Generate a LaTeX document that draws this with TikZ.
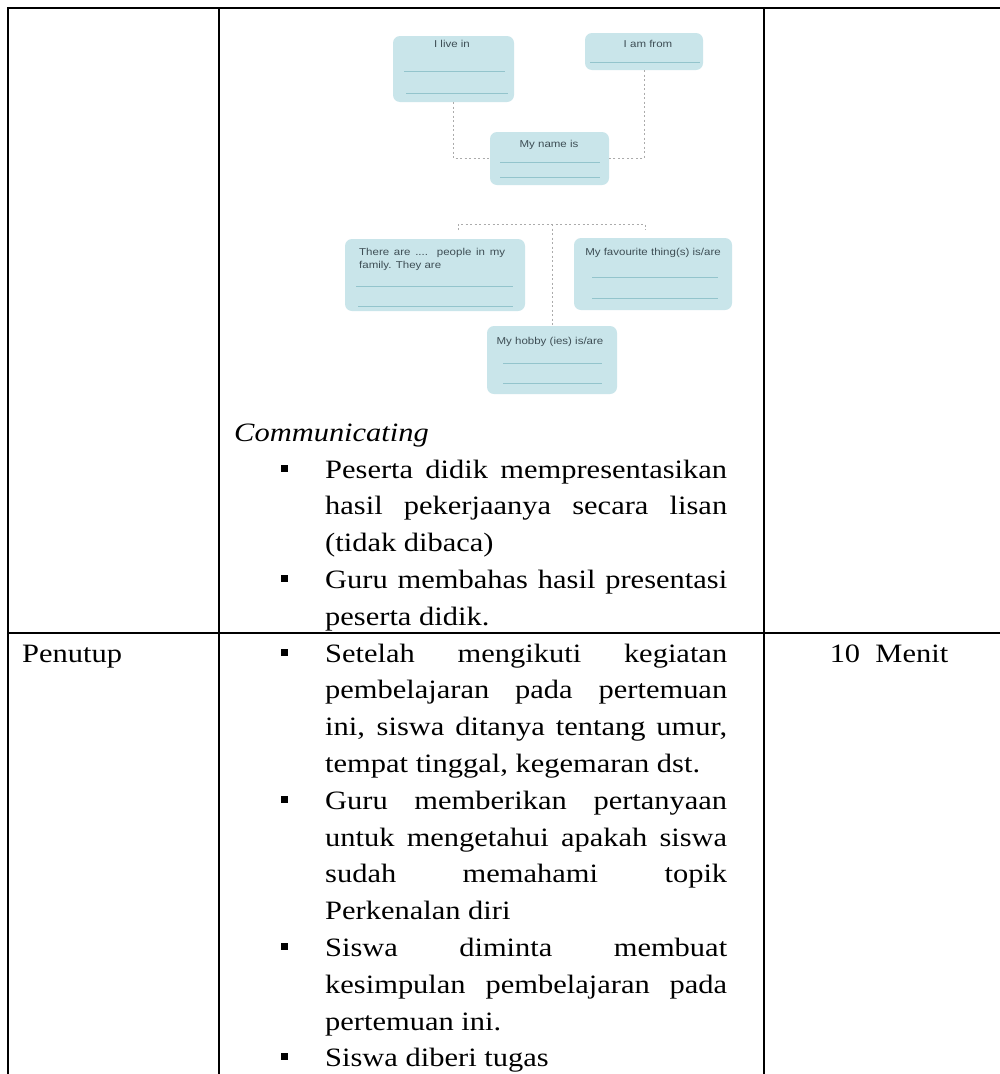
\documentclass[tikz,border=0pt]{standalone}
\usepackage{fontspec}
\setmainfont{Liberation Serif}[FakeStretch=1.15]
\newfontfamily\dsans{Liberation Sans}[FakeStretch=1.15]
\definecolor{boxfill}{HTML}{C9E5EA}
\definecolor{blinec}{HTML}{93C4CC}
\definecolor{conncol}{HTML}{ABABAB}
\definecolor{dtextc}{HTML}{3E4E55}
\newcommand{\jl}[1]{\makebox[402pt][s]{#1}}
\begin{document}
\begin{tikzpicture}[x=1pt,y=-1pt,
  tline/.style={line width=2pt, draw=black},
  body/.style={anchor=base west, inner sep=0pt, font=\fontsize{26.5}{30}\selectfont},
  bulletsq/.style={rectangle, fill=black, draw=none, minimum size=7pt, inner sep=0pt},
  dbox/.style={rectangle, fill=boxfill, draw=none, rounded corners=7pt, inner sep=0pt},
  dtext/.style={font=\dsans\fontsize{10}{11}\selectfont, text=dtextc, inner sep=0pt, anchor=base},
  bline/.style={draw=blinec, line width=0.9pt},
  conn/.style={draw=conncol, line width=1pt, dash pattern=on 2pt off 2.5pt}]
\useasboundingbox (0,0) rectangle (1000,1074);
\fill[white] (0,0) rectangle (1000,1074);

% ---------- table rules ----------
\coordinate (tl) at (7,8);
\coordinate (tr) at (1000,8);
\coordinate (c1t) at (8,7);
\coordinate (c1b) at (8,1074);
\coordinate (c2t) at (219,7);
\coordinate (c2b) at (219,1074);
\coordinate (c3t) at (764,7);
\coordinate (c3b) at (764,1074);
\coordinate (rl) at (8,633);
\coordinate (rr) at (1000,633);
\draw[tline] (tl) -- (tr);
\draw[tline] (c1t) -- (c1b);
\draw[tline] (c2t) -- (c2b);
\draw[tline] (c3t) -- (c3b);
\draw[tline] (rl) -- (rr);

% ---------- embedded diagram ----------
\node[dbox, minimum width=121pt, minimum height=66pt] (live) at (453.5,69) {};
\node[dbox, minimum width=118pt, minimum height=37pt] (from) at (644,51.5) {};
\node[dbox, minimum width=119pt, minimum height=53pt] (name) at (549.5,158.5) {};
\node[dbox, minimum width=180pt, minimum height=72pt] (family) at (435,275) {};
\node[dbox, minimum width=158pt, minimum height=72pt] (fav) at (653,274) {};
\node[dbox, minimum width=130pt, minimum height=68pt] (hobby) at (552,360) {};

\node[dtext] (tlive) at (452,47) {I live in};
\node[dtext] (tfrom) at (648,47) {I am from};
\node[dtext] (tname) at (549,147) {My name is};
\node[dtext, anchor=base west] (tfam1) at (359,255) {\makebox[146pt][s]{There are .... people in my}};
\node[dtext, anchor=base west] (tfam2) at (359,268) {family. They are};
\node[dtext] (tfav) at (653,255) {My favourite thing(s) is/are};
\node[dtext] (thob) at (550,344) {My hobby (ies) is/are};

\draw[bline] (404,71) -- (505,71);
\draw[bline] (406,93) -- (508,93);
\draw[bline] (590,62) -- (700,62);
\draw[bline] (500,162) -- (600,162);
\draw[bline] (500,177) -- (600,177);
\draw[bline] (356,286) -- (513,286);
\draw[bline] (358,306) -- (513,306);
\draw[bline] (592,277) -- (718,277);
\draw[bline] (592,298) -- (718,298);
\draw[bline] (503,363) -- (602,363);
\draw[bline] (503,383) -- (602,383);

\draw[conn] (live.south) |- (name.west);
\draw[conn] (from.south) |- (name.east);
\coordinate (hl) at (458,230);
\coordinate (hlt) at (458,224);
\coordinate (hrt) at (645,224);
\coordinate (hr) at (645,230);
\coordinate (hm) at (552,224);
\draw[conn] (hl) -- (hlt) -- (hrt) -- (hr);
\draw[conn] (hm) -- (hobby.north);

% ---------- text ----------
\node[body, font=\fontsize{26.5}{30}\selectfont\itshape] (comm) at (234,441) {Communicating};

\node[bulletsq] (b1) at (284,468) {};
\node[body] (l1) at (325,478) {\jl{Peserta didik mempresentasikan}};
\node[body] (l2) at (325,514.8) {\jl{hasil pekerjaanya secara lisan}};
\node[body] (l3) at (325,551.6) {(tidak dibaca)};
\node[bulletsq] (b2) at (284,578.4) {};
\node[body] (l4) at (325,588.4) {\jl{Guru membahas hasil presentasi}};
\node[body] (l5) at (325,625.2) {peserta didik.};

\node[body] (pen) at (22,662) {Penutup};
\node[body, anchor=base] (men) at (889,662) {10~~Menit};

\node[bulletsq] (b3) at (284,652) {};
\node[body] (l6) at (325,662) {\jl{Setelah mengikuti kegiatan}};
\node[body] (l7) at (325,698.8) {\jl{pembelajaran pada pertemuan}};
\node[body] (l8) at (325,735.6) {\jl{ini, siswa ditanya tentang umur,}};
\node[body] (l9) at (325,772.4) {tempat tinggal, kegemaran dst.};
\node[bulletsq] (b4) at (284,799.2) {};
\node[body] (l10) at (325,809.2) {\jl{Guru memberikan pertanyaan}};
\node[body] (l11) at (325,846) {\jl{untuk mengetahui apakah siswa}};
\node[body] (l12) at (325,882.8) {\jl{sudah memahami topik}};
\node[body] (l13) at (325,919.6) {Perkenalan diri};
\node[bulletsq] (b5) at (284,946.4) {};
\node[body] (l14) at (325,956.4) {\jl{Siswa diminta membuat}};
\node[body] (l15) at (325,993.2) {\jl{kesimpulan pembelajaran pada}};
\node[body] (l16) at (325,1030) {pertemuan ini.};
\node[bulletsq] (b6) at (284,1056.8) {};
\node[body] (l17) at (325,1066.8) {Siswa diberi tugas};
\end{tikzpicture}
\end{document}
